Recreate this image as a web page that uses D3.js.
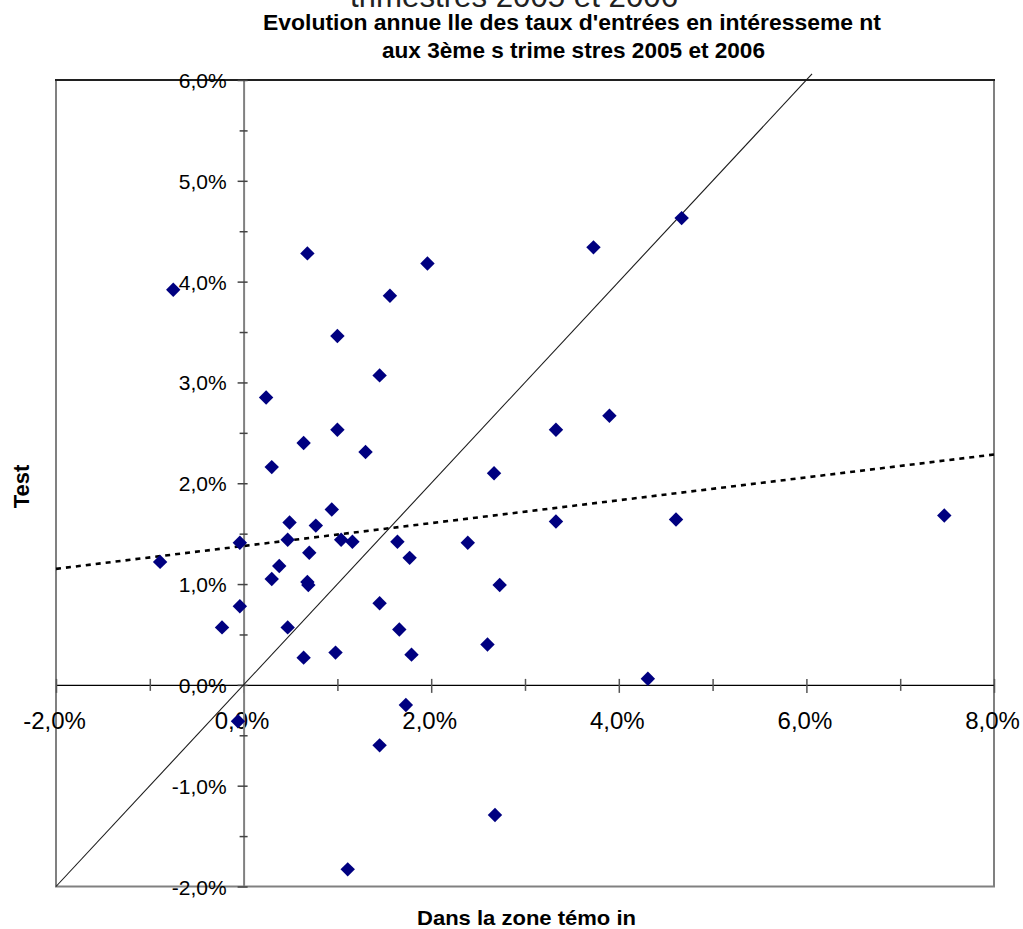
<!DOCTYPE html>
<html>
<head>
<meta charset="utf-8">
<script src="https://cdn.jsdelivr.net/npm/d3@7"></script>
<style>
  html, body { margin: 0; padding: 0; background: #ffffff; }
  svg { display: block; font-family: "Liberation Sans", Arial, sans-serif; }
</style>
</head>
<body>
<svg id="chart" width="1023" height="929"></svg>
<script>
// ---------- data (values in %) ----------
const pointX = [-0.75, 0.68, 1.00, 1.56, 1.96, 3.73, 4.67, 0.24, 1.45, 0.64,
                1.00, 0.30, 1.30, 3.33, 3.90, 2.67, 0.94, 0.49, 0.77, -0.04,
                0.47, 1.04, 1.16, 1.64, 2.39, 3.33, 4.61, 7.47, -0.89, 0.70,
                1.77, 0.38, 0.30, 0.68, 0.69, 2.73, -0.04, -0.23, 0.47, 1.45,
                1.66, 0.64, 0.98, 1.79, 2.60, 4.31, -0.06, 1.73, 1.45, 2.68,
                1.11];
const pointY = [3.92, 4.28, 3.46, 3.86, 4.18, 4.34, 4.63, 2.85, 3.07, 2.40,
                2.53, 2.16, 2.31, 2.53, 2.67, 2.10, 1.74, 1.61, 1.58, 1.41,
                1.44, 1.44, 1.42, 1.42, 1.41, 1.62, 1.64, 1.68, 1.22, 1.31,
                1.26, 1.18, 1.05, 1.02, 0.99, 0.99, 0.78, 0.57, 0.57, 0.81,
                0.55, 0.27, 0.32, 0.30, 0.40, 0.06, -0.36, -0.20, -0.60, -1.29,
                -1.83];
const diagonalX = [-2, 6.06];
const diagonalY = [-2, 6.06];
const trendX = [-2, 8];
const trendY = [1.151, 2.285];

const xTickValues = [-2, -1, 0, 1, 2, 3, 4, 5, 6, 7, 8];
const xLabelValues = [-2, 0, 2, 4, 6, 8];
const yTickValues = [-2, -1.5, -1, -0.5, 0, 0.5, 1, 1.5, 2, 2.5, 3, 3.5, 4, 4.5, 5, 5.5, 6];
const yLabelValues = [-2, -1, 0, 1, 2, 3, 4, 5, 6];

const titleTop = "trimestres 2005 et 2006";
const titleLine1 = "Evolution annue lle des taux d'entrées en intéresseme nt";
const titleLine2 = "aux 3ème s trime stres 2005 et 2006";
const xTitle = "Dans la zone témo in";
const yTitle = "Test";

// ---------- layout ----------
const svg = d3.select("#chart");
const W = 1023, H = 929;
const plot = { left: 56, right: 994, top: 80, bottom: 886.5 };

const x = d3.scaleLinear().domain([-2, 8]).range([plot.left, plot.right]);
const y = d3.scaleLinear().domain([-2, 6]).range([plot.bottom, plot.top]);

const fmt = v => v.toFixed(1).replace(".", ",") + "%";

svg.append("rect").attr("width", W).attr("height", H).attr("fill", "#ffffff");

// plot area frame
svg.append("rect")
  .attr("x", plot.left).attr("y", plot.top)
  .attr("width", plot.right - plot.left).attr("height", plot.bottom - plot.top)
  .attr("fill", "none").attr("stroke", "#808080").attr("stroke-width", 2);
svg.append("line")
  .attr("x1", plot.left - 1).attr("x2", plot.right + 1)
  .attr("y1", plot.top).attr("y2", plot.top)
  .attr("stroke", "#000").attr("stroke-width", 1.5);

// ---------- axes ----------
const xAxisG = svg.append("g")
  .attr("transform", `translate(0,${y(0)})`)
  .call(d3.axisBottom(x).tickValues(xTickValues)
        .tickFormat(v => xLabelValues.includes(v) ? fmt(v) : "")
        .tickSizeOuter(0));
xAxisG.select(".domain").attr("stroke", "#000").attr("stroke-width", 1.4);
xAxisG.selectAll(".tick line")
  .attr("y1", -6)
  .attr("y2", d => xLabelValues.includes(d) ? 8 : 6)
  .attr("stroke", "#555").attr("stroke-width", 1.5);
xAxisG.selectAll(".tick text")
  .attr("y", 44.5).attr("dy", null).attr("x", -2)
  .attr("font-size", 24).attr("fill", "#000")
  .attr("font-family", "'Liberation Sans', Arial, sans-serif");

const yAxisG = svg.append("g")
  .attr("transform", `translate(${x(0)},0)`)
  .call(d3.axisLeft(y).tickValues(yTickValues)
        .tickFormat(v => yLabelValues.includes(v) ? fmt(v) : "")
        .tickSizeOuter(0));
yAxisG.select(".domain").attr("stroke", "#808080").attr("stroke-width", 2);
yAxisG.selectAll(".tick line")
  .attr("x1", d => yLabelValues.includes(d) ? -6 : -4)
  .attr("x2", 4)
  .attr("stroke", "#444").attr("stroke-width", 1.5);
yAxisG.selectAll(".tick text")
  .attr("x", -17).attr("y", 7.5).attr("dy", null)
  .attr("font-size", 21).attr("fill", "#000")
  .attr("font-family", "'Liberation Sans', Arial, sans-serif");

// ---------- lines ----------
const lineGen = d3.line().x(d => x(d[0])).y(d => y(d[1]));
svg.append("path")
  .datum(d3.zip(diagonalX, diagonalY))
  .attr("d", lineGen)
  .attr("fill", "none").attr("stroke", "#1a1a1a").attr("stroke-width", 1.1);

svg.append("path")
  .datum(d3.zip(trendX, trendY))
  .attr("d", lineGen)
  .attr("fill", "none").attr("stroke", "#000").attr("stroke-width", 2.6)
  .attr("stroke-dasharray", "5,5");

// ---------- points ----------
const diamond = d3.symbol().type(d3.symbolSquare).size(104);
svg.append("g").selectAll("path")
  .data(d3.zip(pointX, pointY))
  .join("path")
  .attr("d", diamond)
  .attr("transform", d => `translate(${x(d[0])},${y(d[1])}) rotate(45)`)
  .attr("fill", "#000080");

// ---------- titles ----------
svg.append("text")
  .attr("x", 350).attr("y", 7)
  .attr("font-size", 31).attr("fill", "#222")
  .attr("textLength", 328).attr("lengthAdjust", "spacingAndGlyphs")
  .text(titleTop);

svg.append("text")
  .attr("x", 263).attr("y", 30)
  .attr("font-size", 22).attr("font-weight", "bold").attr("fill", "#000")
  .attr("textLength", 618).attr("lengthAdjust", "spacingAndGlyphs")
  .text(titleLine1);

svg.append("text")
  .attr("x", 382).attr("y", 57.5)
  .attr("font-size", 22).attr("font-weight", "bold").attr("fill", "#000")
  .attr("textLength", 383).attr("lengthAdjust", "spacingAndGlyphs")
  .text(titleLine2);

svg.append("text")
  .attr("x", 417).attr("y", 925)
  .attr("font-size", 21).attr("font-weight", "bold").attr("fill", "#000")
  .attr("textLength", 219).attr("lengthAdjust", "spacingAndGlyphs")
  .text(xTitle);

svg.append("text")
  .attr("transform", "translate(28.5,486.5) rotate(-90)")
  .attr("text-anchor", "middle")
  .attr("font-size", 22).attr("font-weight", "bold").attr("fill", "#000")
  .text(yTitle);
</script>
</body>
</html>
